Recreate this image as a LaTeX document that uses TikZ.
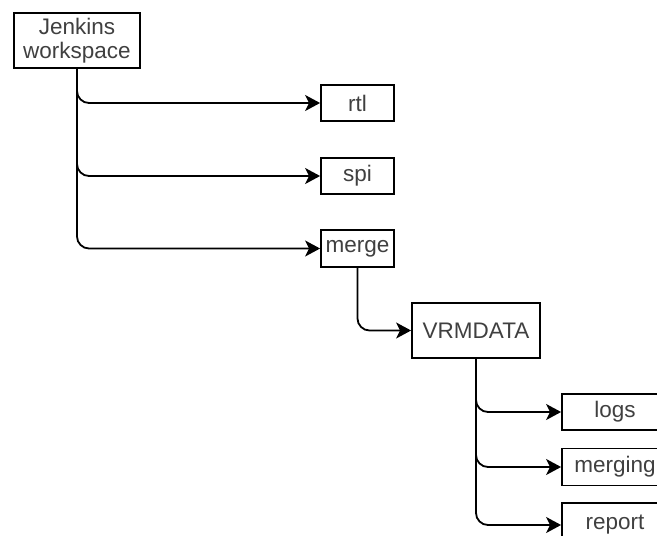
\documentclass[tikz,border=0pt]{standalone}
\usepackage{fontspec}
\setmainfont{Liberation Sans}
\usetikzlibrary{arrows.meta}
\begin{document}
\begin{tikzpicture}[x=1pt,y=-1pt,
  box/.style={draw=black, line width=1.8pt, fill=white, inner sep=0pt, align=center,
    text=black!75, font=\fontsize{22.5}{23.5}\selectfont},
  conn/.style={line width=1.8pt, rounded corners=12pt,
    -{Stealth[length=15pt,width=16pt,inset=4pt]}}]
\useasboundingbox (0,0) rectangle (657,536);
\clip (0,0) rectangle (657,536);
\fill[white] (0,0) rectangle (657,536);
\node[box, minimum width=126pt, minimum height=55pt] (jw) at (77,40.5) {Jenkins\\workspace};
\node[box, minimum width=73pt, minimum height=36pt] (rtl) at (357.5,103) {rtl};
\node[box, minimum width=73pt, minimum height=36pt] (spi) at (357.5,176) {spi};
\node[box, minimum width=73pt, minimum height=37pt] (merge) at (357.5,248.5) {merge};
\node[box, minimum width=128pt, minimum height=55pt] (vrm) at (476,330.5) {VRMDATA};
\node[box, minimum width=106pt, minimum height=36pt, text width=96pt] (logs) at (615,412) {logs};
\node[box, minimum width=106pt, minimum height=37pt, text width=96pt] (merging) at (615,467) {merging};
\node[box, minimum width=106pt, minimum height=44pt, text width=96pt] (report) at (615,525) {report};
\draw[conn] (jw.south) |- (rtl.west);
\draw[conn] (jw.south) |- (spi.west);
\draw[conn] (jw.south) |- (merge.west);
\draw[conn] (merge.south) |- (vrm.west);
\draw[conn] (vrm.south) |- (logs.west);
\draw[conn] (vrm.south) |- (merging.west);
\draw[conn] (vrm.south) |- (report.west);
\end{tikzpicture}
\end{document}
